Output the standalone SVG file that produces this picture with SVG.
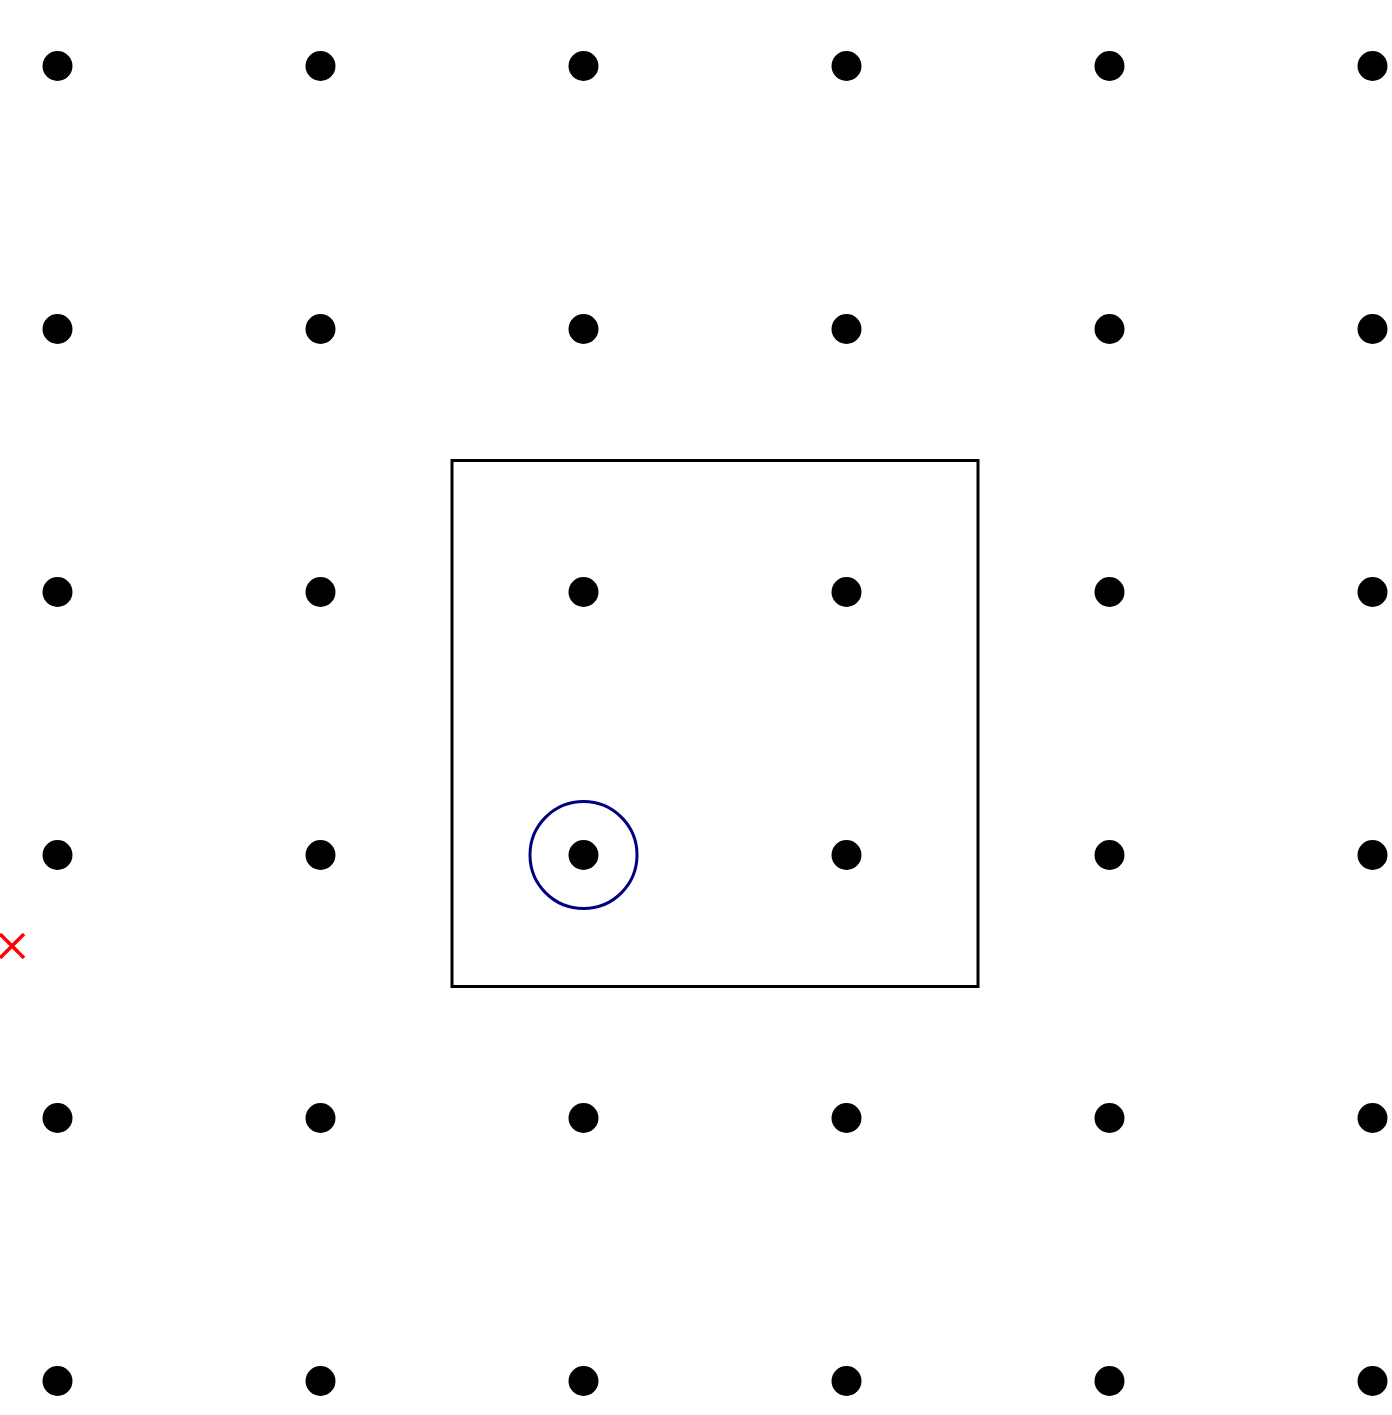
<svg xmlns="http://www.w3.org/2000/svg" width="1392" height="1415" viewBox="0 0 1392 1415">
<style>
.dot{fill:#000}
</style>
<defs><circle id="d" r="15" class="dot"/></defs>
<rect width="1392" height="1415" fill="#fff"/>
<g id="grid">
<use href="#d" x="57.5" y="66"/><use href="#d" x="320.5" y="66"/><use href="#d" x="583.5" y="66"/><use href="#d" x="846.5" y="66"/><use href="#d" x="1109.5" y="66"/><use href="#d" x="1372.5" y="66"/>
<use href="#d" x="57.5" y="329"/><use href="#d" x="320.5" y="329"/><use href="#d" x="583.5" y="329"/><use href="#d" x="846.5" y="329"/><use href="#d" x="1109.5" y="329"/><use href="#d" x="1372.5" y="329"/>
<use href="#d" x="57.5" y="592"/><use href="#d" x="320.5" y="592"/><use href="#d" x="583.5" y="592"/><use href="#d" x="846.5" y="592"/><use href="#d" x="1109.5" y="592"/><use href="#d" x="1372.5" y="592"/>
<use href="#d" x="57.5" y="855"/><use href="#d" x="320.5" y="855"/><use href="#d" x="583.5" y="855"/><use href="#d" x="846.5" y="855"/><use href="#d" x="1109.5" y="855"/><use href="#d" x="1372.5" y="855"/>
<use href="#d" x="57.5" y="1118"/><use href="#d" x="320.5" y="1118"/><use href="#d" x="583.5" y="1118"/><use href="#d" x="846.5" y="1118"/><use href="#d" x="1109.5" y="1118"/><use href="#d" x="1372.5" y="1118"/>
<use href="#d" x="57.5" y="1381"/><use href="#d" x="320.5" y="1381"/><use href="#d" x="583.5" y="1381"/><use href="#d" x="846.5" y="1381"/><use href="#d" x="1109.5" y="1381"/><use href="#d" x="1372.5" y="1381"/>
</g>
<g id="box"><rect x="452" y="460.5" width="526" height="526" fill="none" stroke="#000" stroke-width="3"/></g>
<g id="ring"><circle cx="583.5" cy="855" r="53.5" fill="none" stroke="#000080" stroke-width="3"/></g>
<g id="marker" stroke="#ff0000" stroke-width="3.5"><line x1="0" y1="934" x2="24" y2="958"/><line x1="0" y1="958" x2="24" y2="934"/></g>
</svg>
